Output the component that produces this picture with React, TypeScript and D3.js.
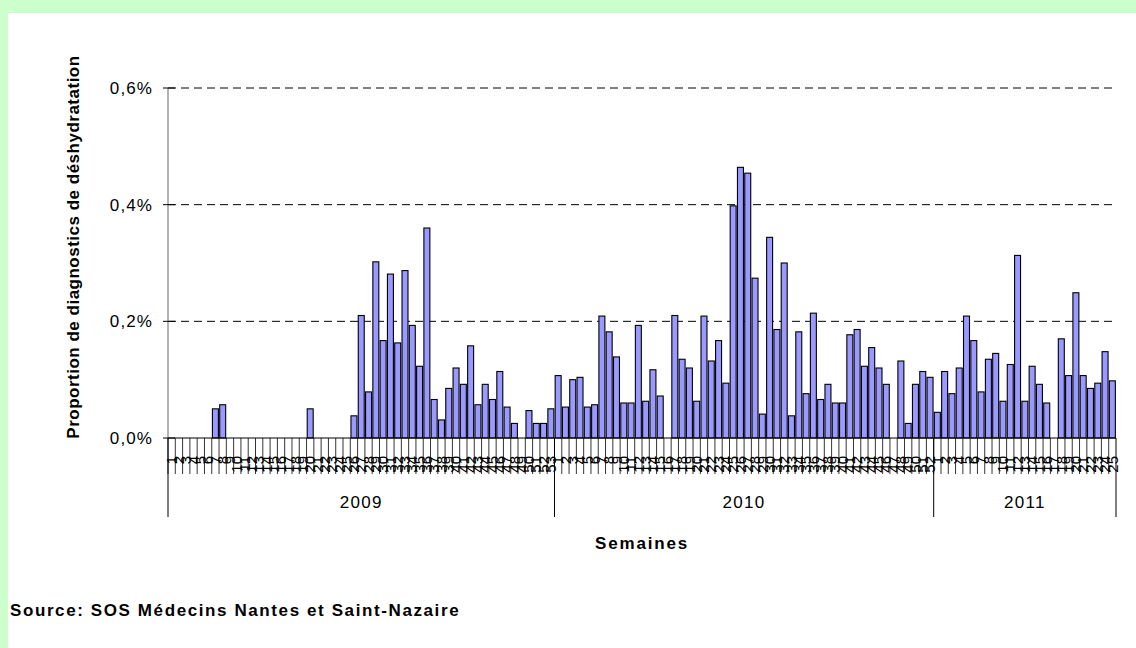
import React from "react";
import * as d3 from "d3";

// weekly share of dehydration diagnoses (%)
const weeks2009 = [
  0, 0, 0, 0, 0, 0, 0.05, 0.057, 0, 0, 0, 0, 0, 0, 0, 0, 0, 0, 0, 0.05, 0, 0, 0,
  0, 0, 0.038, 0.21, 0.079, 0.302, 0.167, 0.281, 0.163, 0.287, 0.193, 0.123,
  0.36, 0.066, 0.031, 0.085, 0.12, 0.092, 0.158, 0.057, 0.092, 0.066, 0.114,
  0.053, 0.025, 0, 0.047, 0.025, 0.025, 0.05,
];
const weeks2010 = [
  0.107, 0.053, 0.1, 0.104, 0.053, 0.057, 0.209, 0.182, 0.139, 0.06, 0.06,
  0.193, 0.063, 0.117, 0.072, 0, 0.21, 0.135, 0.12, 0.063, 0.209, 0.132, 0.167,
  0.094, 0.398, 0.464, 0.454, 0.274, 0.041, 0.344, 0.186, 0.3, 0.038, 0.182,
  0.076, 0.214, 0.066, 0.092, 0.06, 0.06, 0.177, 0.186, 0.123, 0.155, 0.12,
  0.092, 0, 0.132, 0.025, 0.092, 0.114, 0.104,
];
const weeks2011 = [
  0.044, 0.114, 0.076, 0.12, 0.209, 0.167, 0.079, 0.135, 0.145, 0.063, 0.126,
  0.313, 0.063, 0.123, 0.092, 0.06, 0, 0.17, 0.107, 0.249, 0.107, 0.085, 0.094,
  0.148, 0.098,
];
const years = ["2009", "2010", "2011"];
const yTicks = [0, 0.2, 0.4, 0.6];

const font = "'Liberation Sans', Arial, sans-serif";

export default function App() {
  const series = [weeks2009, weeks2010, weeks2011];
  const data = series.flatMap((vals, yi) =>
    vals.map((v, i) => ({ year: years[yi], week: i + 1, key: `${years[yi]}-${i + 1}`, value: v }))
  );

  const left = 168, right = 1116, top = 88, bottom = 438;

  const x = d3
    .scaleBand<string>()
    .domain(data.map((d) => d.key))
    .range([left, right])
    .paddingInner(0.18)
    .paddingOuter(0.09);
  const y = d3.scaleLinear().domain([0, 0.6]).range([bottom, top]);

  const step = x.step();
  const edge = (key: string) => (x(key) || 0) - (x.paddingInner() * step) / 2;

  // year group boundaries
  let acc = 0;
  const groups = series.map((vals, yi) => {
    const start = acc;
    acc += vals.length;
    return { year: years[yi], start, end: acc };
  });
  const edgeAt = (idx: number) => left + idx * step;

  return (
    <div style={{ position: "fixed", left: 0, top: 0 }}>
      <svg width={1136} height={648} style={{ display: "block" }}>
        <rect width={1136} height={648} fill="#CCFFCC" />
        <rect x={8} y={13} width={1128} height={635} fill="#ffffff" />

        {/* grid */}
        {yTicks.slice(1).map((t) => (
          <line key={t} x1={left} x2={right} y1={y(t)} y2={y(t)} stroke="#000" strokeDasharray="8,5" />
        ))}

        {/* bars */}
        {data
          .filter((d) => d.value > 0)
          .map((d) => (
            <rect
              key={d.key}
              x={x(d.key)}
              y={y(d.value)}
              width={x.bandwidth()}
              height={bottom - y(d.value)}
              fill="#9999FF"
              stroke="#000"
              strokeWidth={1.1}
            />
          ))}

        {/* y axis */}
        <line x1={left} x2={left} y1={top} y2={bottom} stroke="#808080" strokeWidth={1.2} />
        {yTicks.map((t) => (
          <g key={t}>
            <line x1={left - 5} x2={left + 7} y1={y(t)} y2={y(t)} stroke="#000" />
            <text
              x={153}
              y={y(t)}
              dy="0.35em"
              textAnchor="end"
              fontFamily={font}
              fontSize={17}
              letterSpacing={1.1}
              fill="#000"
            >
              {t.toFixed(1).replace(".", ",") + "%"}
            </text>
          </g>
        ))}

        {/* x axis */}
        <line x1={left} x2={right} y1={bottom} y2={bottom} stroke="#000" />
        {data.map((d) => (
          <line key={"t" + d.key} x1={edge(d.key)} x2={edge(d.key)} y1={bottom} y2={474} stroke="#000" strokeWidth={0.8} />
        ))}
        {data.map((d) => {
          const cx = (x(d.key) || 0) + x.bandwidth() / 2;
          return (
            <text
              key={"l" + d.key}
              transform={`translate(${cx + 5.2},456) rotate(-90)`}
              textAnchor="end"
              fontFamily={font}
              fontSize={15}
              fill="#000"
            >
              {d.week}
            </text>
          );
        })}
        {groups.map((g) => (
          <line key={"s" + g.year} x1={edgeAt(g.start)} x2={edgeAt(g.start)} y1={bottom} y2={517} stroke="#000" />
        ))}
        <line x1={right} x2={right} y1={bottom} y2={517} stroke="#000" />
        {groups.map((g) => (
          <text
            key={"y" + g.year}
            x={(edgeAt(g.start) + edgeAt(g.end)) / 2}
            y={508}
            textAnchor="middle"
            fontFamily={font}
            fontSize={17}
            letterSpacing={1.3}
            fill="#000"
          >
            {g.year}
          </text>
        ))}

        {/* titles */}
        <text
          transform={`translate(79,247) rotate(-90)`}
          textAnchor="middle"
          fontFamily={font}
          fontSize={17}
          fontWeight="bold"
          letterSpacing={0.5}
          fill="#000"
        >
          Proportion de diagnostics de déshydratation
        </text>
        <text x={642} y={549} textAnchor="middle" fontFamily={font} fontSize={17} fontWeight="bold" letterSpacing={1.8} fill="#000">
          Semaines
        </text>
        <text x={10} y={616} fontFamily={font} fontSize={17} fontWeight="bold" letterSpacing={1.6} fill="#000">
          Source: SOS Médecins Nantes et Saint-Nazaire
        </text>
      </svg>
    </div>
  );
}
